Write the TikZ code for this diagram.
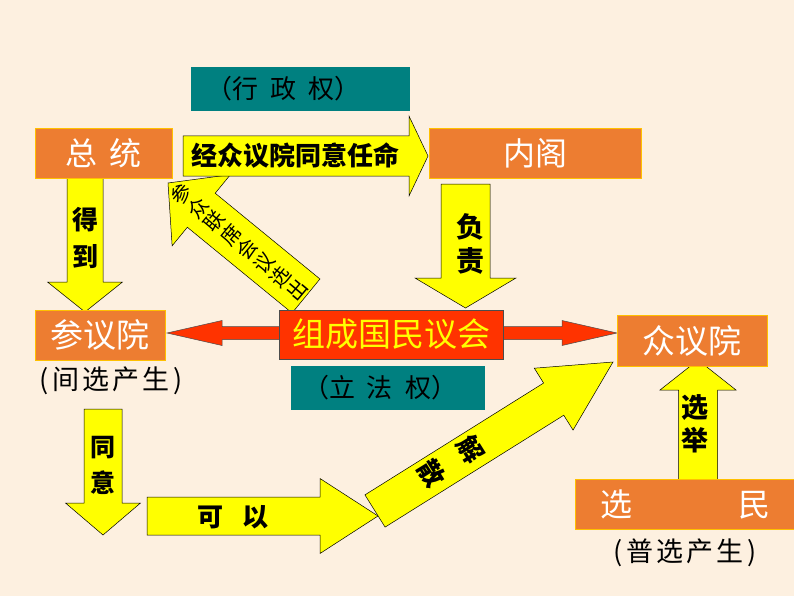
\documentclass[tikz,border=0pt]{standalone}
\usepackage{fontspec}
\setmainfont{Noto Sans CJK SC}
\usetikzlibrary{calc}

\definecolor{bgcream}{RGB}{253,240,224}
\definecolor{boxorange}{RGB}{237,125,49}
\definecolor{boxgold}{RGB}{255,192,0}
\definecolor{powteal}{RGB}{0,128,128}
\definecolor{arryellow}{RGB}{255,255,0}
\definecolor{parlred}{RGB}{255,51,0}

% block arrow from (#2-a) to (#2-b): #3 half shaft, #4 half head, #5 head length
\newcommand{\blockarr}[5]{%
  \coordinate (#2-h) at ($(#2-b)!#5!(#2-a)$);
  \draw[#1] ($(#2-a)!#3!90:(#2-b)$) -- ($(#2-h)!#3!90:(#2-b)$) -- ($(#2-h)!#4!90:(#2-b)$)
    -- (#2-b) -- ($(#2-h)!#4!-90:(#2-b)$) -- ($(#2-h)!#3!-90:(#2-b)$) -- ($(#2-a)!#3!-90:(#2-b)$) -- cycle;
}
% same, with a head at both ends
\newcommand{\dblarr}[5]{%
  \coordinate (#2-h1) at ($(#2-a)!#5!(#2-b)$);
  \coordinate (#2-h2) at ($(#2-b)!#5!(#2-a)$);
  \draw[#1] (#2-a) -- ($(#2-h1)!#4!90:(#2-b)$) -- ($(#2-h1)!#3!90:(#2-b)$) -- ($(#2-h2)!#3!90:(#2-b)$)
    -- ($(#2-h2)!#4!90:(#2-b)$) -- (#2-b) -- ($(#2-h2)!#4!-90:(#2-b)$) -- ($(#2-h2)!#3!-90:(#2-b)$)
    -- ($(#2-h1)!#3!-90:(#2-b)$) -- ($(#2-h1)!#4!-90:(#2-b)$) -- cycle;
}

\begin{document}
\begin{tikzpicture}[
    x=1pt, y=-1pt,
    box/.style={draw=boxgold, line width=0.8pt, fill=boxorange, text=white, inner sep=0pt,
      font=\fontsize{32}{36}\selectfont},
    powbox/.style={fill=powteal, text=black, inner sep=0pt, font=\fontsize{26}{30}\selectfont},
    yarrow/.style={fill=arryellow, draw=black, line width=0.5pt},
    rarrow/.style={fill=parlred, draw=black!70, line width=0.5pt},
    lbl/.style={inner sep=0pt, align=center, text=black, font=\fontsize{26}{37}\selectfont\bfseries},
    note/.style={inner sep=0pt, text=black, font=\fontsize{27}{30}\selectfont}
]
\useasboundingbox (0,0) rectangle (794,596);
\fill[bgcream] (0,0) rectangle (794,596);

% power labels
\node[powbox, minimum width=219pt, minimum height=44pt] (xzq) at (300.5,89)
  {\hspace{-34pt}（行\hspace{12pt}政\hspace{12pt}权）\hspace{40pt}};
\node[powbox, minimum width=194pt, minimum height=44pt] (lfq) at (388,388)
  {\hspace{-16pt}（立\hspace{12pt}法\hspace{12pt}权）\hspace{14pt}};

% president -> senate
\coordinate (dedao-a) at (85,178);
\coordinate (dedao-b) at (85,312);
\blockarr{yarrow}{dedao}{18pt}{37.5pt}{30pt}
\node[lbl] (dedao-t) at (85,238) {得\\到};

% joint session elects president
\coordinate (xc-a) at (306,296);
\coordinate (xc-b) at (168,183);
\blockarr{yarrow}{xc}{22pt}{46pt}{43pt}
\node[lbl, rotate=50, font=\fontsize{20}{21.5}\selectfont] (xc-t) at (239,242)
  {参\\众\\联\\席\\会\\议\\选\\出};

% president -> cabinet
\coordinate (rm-a) at (183,156);
\coordinate (rm-b) at (428,156);
\blockarr{yarrow}{rm}{20pt}{40pt}{19pt}
\node[lbl, font=\fontsize{26}{30}\selectfont\bfseries] (rm-t) at (295,156) {经众议院同意任命};

% cabinet responsible to parliament
\coordinate (fz-a) at (465.5,184);
\coordinate (fz-b) at (465.5,308);
\blockarr{yarrow}{fz}{24.5pt}{50.5pt}{30pt}
\node[lbl, font=\fontsize{28}{34}\selectfont\bfseries] (fz-t) at (470,244) {负\\责};

% senate agrees -> may dissolve
\coordinate (ty-a) at (103,409);
\coordinate (ty-b) at (103,535);
\blockarr{yarrow}{ty}{19pt}{37.5pt}{32pt}
\node[lbl, font=\fontsize{25}{36}\selectfont\bfseries] (ty-t) at (103,465) {同\\意};

\coordinate (ky-a) at (147,516);
\coordinate (ky-b) at (378,516);
\blockarr{yarrow}{ky}{19pt}{37.5pt}{58pt}
\node[lbl] (ky-t) at (233,517) {可\hspace{19pt}以};

\coordinate (js-a) at (375,511);
\coordinate (js-b) at (613,362);
\blockarr{yarrow}{js}{19pt}{36.5pt}{70pt}
\node[lbl, rotate=-58, font=\fontsize{26}{46}\selectfont\bfseries] (js-t) at (451,461) {解\\散};

% voters elect house
\coordinate (xj-a) at (698,485);
\coordinate (xj-b) at (698,360);
\blockarr{yarrow}{xj}{19.5pt}{38pt}{30pt}
\node[lbl, font=\fontsize{27}{33}\selectfont\bfseries] (xj-t) at (695,424) {选\\举};

% parliament
\coordinate (gh-a) at (167,333);
\coordinate (gh-b) at (617,333);
\dblarr{rarrow}{gh}{6.5pt}{12.5pt}{55pt}
\node[fill=parlred, draw=black!70, line width=0.5pt, text=arryellow, inner sep=0pt,
  minimum width=224pt, minimum height=49pt, font=\fontsize{33}{38}\selectfont] (gh) at (391,334.5) {组成国民议会};

% organs
\node[box, minimum width=137pt, minimum height=50pt] (zt) at (103.5,153) {总\hspace{12pt}统};
\node[box, minimum width=212pt, minimum height=50pt] (ng) at (535,153) {内阁};
\node[box, minimum width=130pt, minimum height=50pt, font=\fontsize{33}{36}\selectfont] (cyy) at (100,335) {参议院};
\node[box, minimum width=150pt, minimum height=51pt, font=\fontsize{33}{36}\selectfont] (zyy) at (692,340.5) {众议院};
\node[box, minimum width=220pt, minimum height=50pt] (xm) at (685,504) {选\hspace{106pt}民};

\node[note] (cyy-n) at (111,381)
  {(\hspace{4pt}间\hspace{3pt}选\hspace{3pt}产\hspace{3pt}生\hspace{4pt})};
\node[note] (xm-n) at (685,553)
  {(\hspace{4pt}普\hspace{3pt}选\hspace{3pt}产\hspace{3pt}生\hspace{4pt})};

\end{tikzpicture}
\end{document}
